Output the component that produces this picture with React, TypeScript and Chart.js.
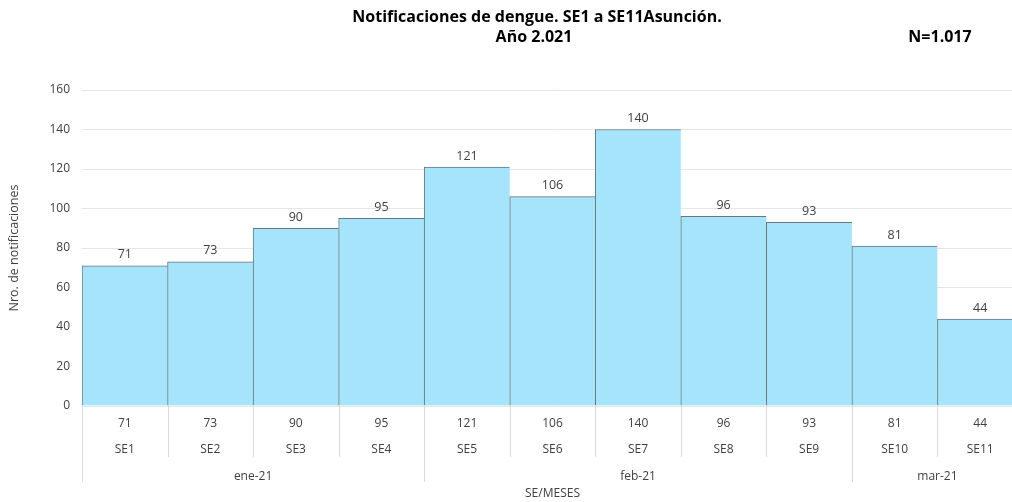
import React, { useEffect, useRef } from "react";
import { Chart, registerables } from "chart.js";

Chart.register(...registerables);

const weeks = ["SE1", "SE2", "SE3", "SE4", "SE5", "SE6", "SE7", "SE8", "SE9", "SE10", "SE11"];
const notifications = [71, 73, 90, 95, 121, 106, 140, 96, 93, 81, 44];
const months = ["ene-21", "feb-21", "mar-21"];
const monthWeekCounts = [4, 5, 2];
const yTicks = [0, 20, 40, 60, 80, 100, 120, 140, 160];
const titleLine1 = "Notificaciones de dengue. SE1 a SE11Asunción.";
const titleLine2 = "Año 2.021";
const totalLabel = "N=1.017";
const yTitle = "Nro. de notificaciones";
const xTitle = "SE/MESES";

const FONT = "'Open Sans', 'Noto Sans', sans-serif";
const TEXT = "#404040";
const LINE = "#d9d9d9";

const overlayPlugin = {
  id: "overlay",
  afterDatasetsDraw(chart: any) {
    const ctx = chart.ctx;
    const x = chart.scales.x;
    const y = chart.scales.y;
    const area = chart.chartArea;
    ctx.save();
    // value labels above bars
    ctx.font = `12.5px ${FONT}`;
    ctx.fillStyle = TEXT;
    ctx.textAlign = "center";
    ctx.textBaseline = "middle";
    notifications.forEach((v, i) => {
      ctx.fillText(String(v), x.getPixelForValue(i), y.getPixelForValue(v) - 11);
    });
    // table separators
    const half = (x.getPixelForValue(1) - x.getPixelForValue(0)) / 2;
    ctx.strokeStyle = LINE;
    ctx.lineWidth = 1;
    const bottom = area.bottom;
    const bounds = new Set<number>();
    let acc = 0;
    bounds.add(0);
    monthWeekCounts.forEach((c) => {
      acc += c;
      bounds.add(acc);
    });
    for (let i = 0; i <= weeks.length; i++) {
      const px = Math.round(x.getPixelForValue(i) - half) + 0.5;
      const end = bounds.has(i) ? bottom + 76 : bottom + 51;
      ctx.beginPath();
      ctx.moveTo(px, bottom);
      ctx.lineTo(px, end);
      ctx.stroke();
    }
    // month labels
    ctx.font = `12px ${FONT}`;
    ctx.fillStyle = TEXT;
    let start = 0;
    monthWeekCounts.forEach((c, m) => {
      const l = x.getPixelForValue(start) - half;
      const r = x.getPixelForValue(start + c - 1) + half;
      ctx.fillText(months[m], (l + r) / 2, bottom + 71);
      start += c;
    });
    // x title
    ctx.fillText(xTitle, (area.left + area.right) / 2, bottom + 88);
    // chart title
    ctx.font = `bold 16px ${FONT}`;
    ctx.fillStyle = "#000000";
    ctx.fillText(titleLine1, 537, 17);
    ctx.fillText(titleLine2, 534, 37);
    ctx.fillText(totalLabel, 940, 37);
    ctx.restore();
  },
};

export default function App() {
  const ref = useRef<HTMLCanvasElement | null>(null);
  useEffect(() => {
    if (!ref.current) return;
    const chart = new Chart(ref.current, {
      type: "bar",
      data: {
        labels: weeks.map((w, i) => [String(notifications[i]), w]),
        datasets: [
          {
            data: notifications,
            backgroundColor: "#a6e4fb",
            borderColor: "#66767d",
            borderWidth: { top: 1, left: 1, right: 0, bottom: 0 } as any,
            borderSkipped: false,
            barPercentage: 1,
            categoryPercentage: 1,
          },
        ],
      },
      options: {
        responsive: false,
        animation: false,
        devicePixelRatio: 1,
        layout: { padding: { top: 90, right: 7, left: 0, bottom: 0 } },
        plugins: {
          legend: { display: false },
          tooltip: { enabled: false },
          title: { display: false },
        },
        scales: {
          x: {
            grid: { display: false },
            border: { display: false },
            ticks: {
              color: TEXT,
              font: { family: FONT, size: 12, lineHeight: "26px" } as any,
              padding: -3,
              maxRotation: 0,
              autoSkip: false,
            },
            afterFit: (s: any) => {
              s.height = 96;
            },
          },
          y: {
            min: 0,
            max: 160,
            afterBuildTicks: (s: any) => {
              s.ticks = yTicks.map((v) => ({ value: v }));
            },
            grid: { color: "#e6e6e6", drawTicks: false },
            border: { display: false },
            ticks: {
              color: TEXT,
              font: { family: FONT, size: 12 },
              padding: 12,
            },
            title: {
              display: true,
              text: yTitle,
              color: TEXT,
              font: { family: FONT, size: 12.5 },
              padding: { top: 7, bottom: 0 },
            },
            afterFit: (s: any) => {
              s.width = 82;
            },
          },
        },
      },
      plugins: [overlayPlugin],
    });
    return () => chart.destroy();
  }, []);
  return (
    <div style={{ position: "absolute", left: 0, top: 0, width: 1012, height: 502, overflow: "hidden", background: "#fff" }}>
      <canvas ref={ref} width={1030} height={502} style={{ display: "block" }} />
    </div>
  );
}
